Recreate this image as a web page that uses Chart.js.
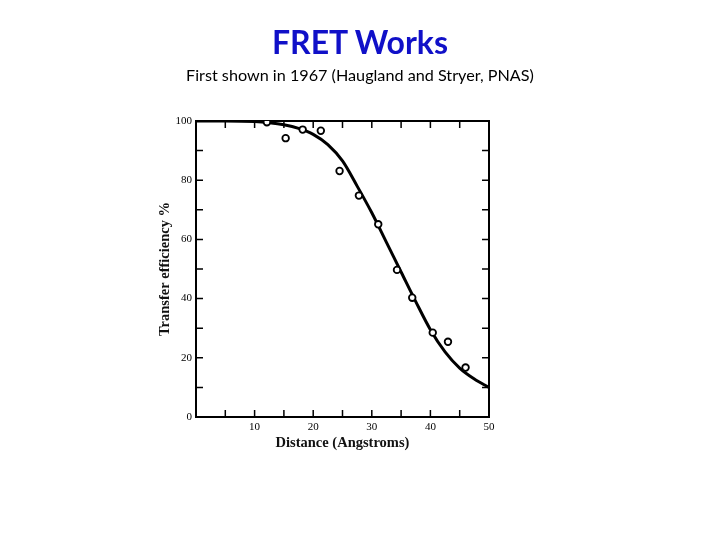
<!DOCTYPE html>
<html>
<head>
<meta charset="utf-8">
<title>FRET Works</title>
<script src="https://cdn.jsdelivr.net/npm/chart.js@4"></script>
<style>
  html, body { margin: 0; padding: 0; background: #fff; }
  #wrap { position: relative; width: 720px; height: 540px; }
  #chart { display: block; position: absolute; left: 0; top: 0; }
  h1, p.sub {
    position: absolute; left: 0; width: 720px; margin: 0;
    text-align: center; font-family: Lato, "Open Sans", sans-serif;
  }
  h1 { top: 23px; line-height: 38px; font-size: 32px; font-weight: bold; color: #1010c8; }
  p.sub { top: 65px; line-height: 20px; font-size: 16.2px; color: #000; }
</style>
</head>
<body>
<div id="wrap">
  <canvas id="chart" width="720" height="540"></canvas>
  <h1>FRET Works</h1>
  <p class="sub">First shown in 1967 (Haugland and Stryer, PNAS)</p>
</div>
<script>
// measured points (open circles)
const distance = [12.1, 15.3, 18.2, 21.3, 24.5, 27.8, 31.1, 34.3, 36.9, 40.4, 43.0, 46.0];
const efficiency = [99.6, 94.2, 97.1, 96.7, 83.1, 74.8, 65.1, 49.7, 40.3, 28.5, 25.4, 16.7];

// solid curve
const curveDistance = [0, 5, 10, 12.5, 15, 17.5, 20, 22.5, 25, 27.5, 30, 32.5, 35, 37.5, 40, 42.5, 45, 47.5, 50];
const curveEfficiency = [100, 100, 99.8, 99.4, 98.7, 97.5, 95.5, 92, 86.5, 78, 69, 59, 49, 39, 29.5, 22, 16.5, 12.8, 10];

const xTickLabels = [10, 20, 30, 40, 50];
const yTickLabels = [0, 20, 40, 60, 80, 100];

const serif = "'Liberation Serif', 'DejaVu Serif', serif";

// frame and inward tick marks on all four sides
const framePlugin = {
  id: "frame",
  beforeDatasetsDraw(chart) {
    const { ctx, chartArea: a, scales } = chart;
    const len = 7;
    ctx.save();
    ctx.strokeStyle = "#000";
    ctx.lineWidth = 1.5;
    ctx.beginPath();
    scales.x.ticks.forEach((t) => {
      const px = scales.x.getPixelForValue(t.value);
      if (t.value <= 0 || t.value >= 50) return;
      ctx.moveTo(px, a.bottom);
      ctx.lineTo(px, a.bottom - len);
      ctx.moveTo(px, a.top);
      ctx.lineTo(px, a.top + len);
    });
    scales.y.ticks.forEach((t) => {
      const py = scales.y.getPixelForValue(t.value);
      if (t.value <= 0 || t.value >= 100) return;
      ctx.moveTo(a.left, py);
      ctx.lineTo(a.left + len, py);
      ctx.moveTo(a.right, py);
      ctx.lineTo(a.right - len, py);
    });
    ctx.stroke();
    ctx.lineWidth = 2;
    ctx.strokeRect(a.left, a.top, a.right - a.left, a.bottom - a.top);
    ctx.restore();
  },
};

new Chart(document.getElementById("chart"), {
  type: "scatter",
  data: {
    datasets: [
      {
        type: "line",
        label: "Fit",
        data: curveDistance.map((x, i) => ({ x: x, y: curveEfficiency[i] })),
        borderColor: "#000",
        borderWidth: 3,
        pointRadius: 0,
        cubicInterpolationMode: "monotone",
        fill: false,
        order: 2,
      },
      {
        label: "Measured",
        data: distance.map((x, i) => ({ x: x, y: efficiency[i] })),
        pointStyle: "circle",
        pointRadius: 3.3,
        borderWidth: 1.8,
        borderColor: "#000",
        backgroundColor: "#fff",
        order: 1,
      },
    ],
  },
  options: {
    responsive: false,
    animation: false,
    layout: { padding: { left: 157, right: 231, top: 121, bottom: 88 } },
    plugins: {
      legend: { display: false },
      tooltip: { enabled: false },
    },
    scales: {
      x: {
        type: "linear",
        min: 0,
        max: 50,
        grid: { display: false, drawTicks: false, tickLength: 0 },
        border: { display: false },
        ticks: {
          stepSize: 5,
          padding: 4,
          color: "#000",
          font: { family: serif, size: 11 },
          maxRotation: 0,
          autoSkip: false,
          callback: (v) => (xTickLabels.includes(v) ? v : ""),
        },
        title: {
          display: true,
          text: "Distance (Angstroms)",
          color: "#111",
          font: { family: serif, size: 14.5, weight: "bold" },
          padding: 0,
        },
        afterFit: (s) => {
          s.height = 35;
        },
      },
      y: {
        min: 0,
        max: 100,
        grid: { display: false, drawTicks: false, tickLength: 0 },
        border: { display: false },
        ticks: {
          stepSize: 10,
          padding: 4,
          color: "#000",
          font: { family: serif, size: 11 },
          autoSkip: false,
          callback: (v) => (yTickLabels.includes(v) ? v : ""),
        },
        title: {
          display: true,
          text: "Transfer efficiency %",
          color: "#111",
          font: { family: serif, size: 14.5, weight: "bold" },
          padding: 0,
        },
        afterFit: (s) => {
          s.width = 39;
        },
      },
    },
  },
  plugins: [framePlugin],
});
</script>
</body>
</html>
